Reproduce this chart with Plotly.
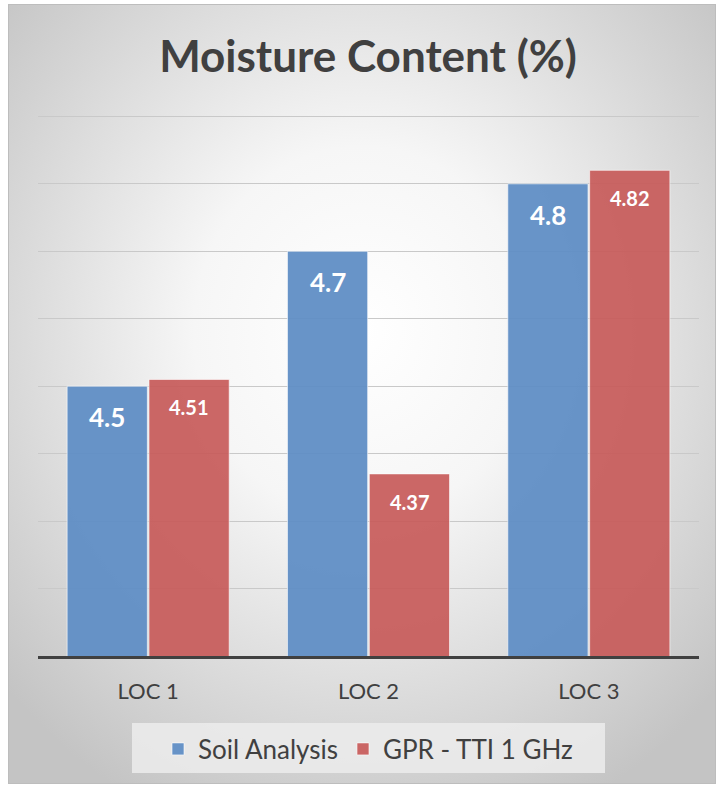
import base64
import plotly.graph_objects as go

# ---- data -------------------------------------------------------------
locations = ["LOC 1", "LOC 2", "LOC 3"]
soil_analysis = [4.5, 4.7, 4.8]
gpr_tti = [4.51, 4.37, 4.82]
grid_vals = [4.1, 4.2, 4.3, 4.4, 4.5, 4.6, 4.7, 4.8, 4.9]

BLUE = "rgba(96,142,197,0.95)"
RED = "rgba(199,91,90,0.93)"
FONT = "Lato"

W, H = 720, 788
ML, MR, MT, MB = 38, 21, 113, 132
PW, PH = W - ML - MR, H - MT - MB

# radial grey background of the chart area, as an svg
svg = f"""<svg xmlns='http://www.w3.org/2000/svg' width='708' height='780' viewBox='0 0 708 780'>
<defs><radialGradient id='g' cx='50%' cy='42%' r='68%'>
<stop offset='0' stop-color='#ffffff'/><stop offset='0.35' stop-color='#f6f6f6'/>
<stop offset='1' stop-color='#c4c4c4'/></radialGradient></defs>
<rect x='0.5' y='0.5' width='707' height='779' fill='url(#g)' stroke='#bdbdbd' stroke-width='1'/>
</svg>"""
bg_src = "data:image/svg+xml;base64," + base64.b64encode(svg.encode()).decode()

fig = go.Figure()
fig.add_trace(go.Bar(x=locations, y=soil_analysis, name="Soil Analysis",
                     marker=dict(color=BLUE, line=dict(color="rgba(255,255,255,0.6)", width=1))))
fig.add_trace(go.Bar(x=locations, y=gpr_tti, name="GPR - TTI 1 GHz",
                     marker=dict(color=RED, line=dict(color="rgba(255,255,255,0.6)", width=1))))

# value labels inside the bars, a bit below the top
for loc, v in zip(locations, soil_analysis):
    fig.add_annotation(x=loc, y=v, text=f"<b>{v}</b>", showarrow=False,
                       xshift=-41, yshift=-31, yanchor="middle",
                       font=dict(family=FONT, size=26, color="white"))
for loc, v in zip(locations, gpr_tti):
    fig.add_annotation(x=loc, y=v, text=f"<b>{v}</b>", showarrow=False,
                       xshift=41, yshift=-28, yanchor="middle",
                       font=dict(family=FONT, size=20, color="white"))

fig.add_layout_image(dict(
    source=bg_src, xref="paper", yref="paper",
    x=(8 - ML) / PW, y=1 + (MT - 4) / PH, sizex=708 / PW, sizey=780 / PH,
    xanchor="left", yanchor="top", sizing="stretch", layer="below"))

# legend box
fig.add_shape(type="rect", xref="paper", yref="paper", layer="below",
              x0=(132 - ML) / PW, x1=(605 - ML) / PW,
              y0=(H - MB - 773) / PH, y1=(H - MB - 723) / PH,
              fillcolor="rgba(236,236,236,0.85)", line=dict(width=0))

fig.update_layout(
    width=W, height=H,
    margin=dict(l=ML, r=MR, t=MT, b=MB),
    paper_bgcolor="white", plot_bgcolor="rgba(0,0,0,0)",
    font=dict(family=FONT, color="#404040"),
    title=dict(text="<b>Moisture Content (%)</b>", x=(368 - ML) / PW, xref="paper",
               xanchor="center", y=1 - 57 / H, yanchor="middle",
               font=dict(family=FONT, size=44, color="#404040")),
    barmode="group", bargap=0.257, bargroupgap=0.02,
    showlegend=True,
    legend=dict(orientation="h", x=(368 - ML) / PW, xanchor="center",
                y=(H - MB - 749) / PH, yanchor="middle",
                bgcolor="rgba(0,0,0,0)", font=dict(family=FONT, size=26, color="#404040"),
                traceorder="normal", itemwidth=30, borderwidth=0),
    xaxis=dict(showline=True, linecolor="#404040", linewidth=3,
               ticks="outside", ticklen=14, tickcolor="rgba(0,0,0,0)",
               tickfont=dict(family=FONT, size=22, color="#404040"), showgrid=False),
    yaxis=dict(range=[4.1, 4.905], tickvals=grid_vals, showticklabels=False,
               showgrid=True, gridcolor="#c9c9c9", gridwidth=1, zeroline=False, ticks=""),
)

fig.write_html("out.html", config={"displayModeBar": False},
               post_script="document.body.style.margin='0';")
